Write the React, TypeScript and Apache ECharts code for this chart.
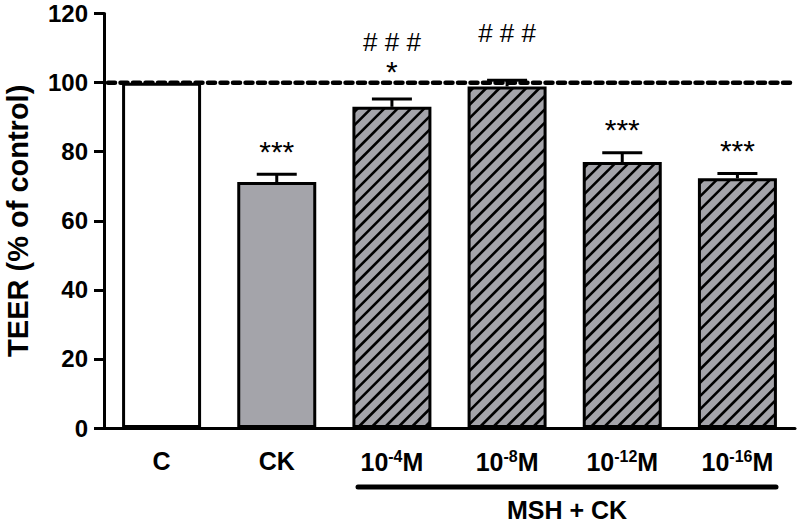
import React, { useEffect, useRef } from "react";
import * as echarts from "echarts";

const categories = ["C", "CK", "10^-4M", "10^-8M", "10^-12M", "10^-16M"];
const categoryLabels = ["C", "CK", "10{sup|-4}M", "10{sup|-8}M", "10{sup|-12}M", "10{sup|-16}M"];
const teerMean = [100, 71.2, 93.0, 98.9, 77.0, 72.3];
const teerSem = [0, 2.3, 2.3, 1.8, 2.7, 1.4];
const hatched = [false, false, true, true, true, true];
const starLabels = ["", "***", "*", "", "***", "***"];
const hashLabels = ["", "", "# # #", "# # #", "", ""];
const yTicks = { min: 0, max: 120, interval: 20 };
const controlLevel = 100;
const groupLabel = "MSH + CK";
const yAxisTitle = "TEER (% of control)";

const GRAY = "#a4a4aa";
const FONT = "'Liberation Sans', Arial, Helvetica, sans-serif";
const BAR_W = 79;

export default function App() {
  const ref = useRef<HTMLDivElement>(null);
  useEffect(() => {
    if (!ref.current) return;
    const chart = echarts.init(ref.current, undefined, { renderer: "svg" });
    const barData = teerMean.map((v, i) => ({
      value: v,
      itemStyle: { color: i === 0 ? "#ffffff" : GRAY },
    }));

    const option: any = {
      animation: false,
      textStyle: { fontFamily: FONT },
      grid: { left: 104, right: 5, top: 13.6, bottom: 97, outerBoundsMode: "none", containLabel: false },
      xAxis: {
        type: "category",
        data: categories,
        axisLine: { lineStyle: { color: "#000", width: 3 } },
        axisTick: { alignWithLabel: true, length: 10, lineStyle: { color: "#000", width: 3 } },
        axisLabel: {
          interval: 0,
          margin: 20,
          color: "#000",
          fontWeight: "bold",
          fontSize: 25,
          fontFamily: FONT,
          formatter: (_v: string, i: number) => categoryLabels[i],
          rich: {
            sup: {
              fontSize: 16,
              fontWeight: "bold",
              fontFamily: FONT,
              color: "#000",
              verticalAlign: "top",
              padding: [0, 0, 12, 0],
            },
          },
        },
      },
      yAxis: {
        type: "value",
        min: yTicks.min,
        max: yTicks.max,
        interval: yTicks.interval,
        name: yAxisTitle,
        nameLocation: "middle",
        nameGap: 72,
        nameTextStyle: { fontSize: 29, fontWeight: "bold", color: "#000", fontFamily: FONT },
        splitLine: { show: false },
        axisLine: { show: true, lineStyle: { color: "#000", width: 3 } },
        axisTick: { show: true, length: 10, lineStyle: { color: "#000", width: 3 } },
        axisLabel: { margin: 16, color: "#000", fontWeight: "bold", fontSize: 24, fontFamily: FONT },
      },
      series: [
        {
          type: "bar",
          data: barData,
          barWidth: BAR_W,
          itemStyle: { borderColor: "#000", borderWidth: 3 },
          z: 2,
        },
        {
          // diagonal hatching inside the hatched bars
          type: "custom",
          data: teerMean.map((v, i) => [i, v]),
          z: 3,
          renderItem: (params: any, api: any) => {
            const idx = params.dataIndex;
            if (!hatched[idx]) return { type: "group", children: [] };
            const top = api.coord([api.value(0), api.value(1)]);
            const bot = api.coord([api.value(0), 0]);
            const inset = 1.5;
            const x0 = top[0] - BAR_W / 2 + inset;
            const x1 = top[0] + BAR_W / 2 - inset;
            const y0 = top[1] + inset;
            const y1 = bot[1] - inset;
            const step = 13.3;
            const children: any[] = [];
            const cStart = x0 + y0 + 4;
            for (let c = cStart; c < x1 + y1; c += step) {
              const sx = Math.max(x0, c - y1);
              const ex = Math.min(x1, c - y0);
              if (ex <= sx) continue;
              children.push({
                type: "line",
                shape: { x1: sx, y1: c - sx, x2: ex, y2: c - ex },
                style: { stroke: "#000", lineWidth: 2.6 },
              });
            }
            return { type: "group", children };
          },
        },
        {
          type: "custom",
          data: [[0, controlLevel]],
          z: 6,
          renderItem: (params: any, api: any) => {
            const cs = params.coordSys;
            const p = api.coord([0, api.value(1)]);
            return {
              type: "line",
              shape: { x1: cs.x + 4, y1: p[1], x2: cs.x + cs.width - 4, y2: p[1] },
              style: { stroke: "#000", lineWidth: 4.5, lineDash: [7, 5.5], lineCap: "round" },
            };
          },
        },
        {
          type: "custom",
          data: teerMean.map((v, i) => [i, v, teerSem[i]]),
          z: 4,
          renderItem: (params: any, api: any) => {
            const i = api.value(0);
            const v = api.value(1);
            const e = api.value(2);
            if (!e) return { type: "group", children: [] };
            const base = api.coord([i, v]);
            const top = api.coord([i, v + e]);
            const hw = 20;
            const st = { stroke: "#000", lineWidth: 3 };
            return {
              type: "group",
              children: [
                { type: "line", shape: { x1: base[0], y1: base[1], x2: top[0], y2: top[1] }, style: st },
                { type: "line", shape: { x1: top[0] - hw, y1: top[1], x2: top[0] + hw, y2: top[1] }, style: st },
              ],
            };
          },
        },
        {
          type: "custom",
          data: teerMean.map((v, i) => [i, v + teerSem[i]]),
          z: 5,
          renderItem: (params: any, api: any) => {
            const idx = params.dataIndex;
            const p = api.coord([api.value(0), api.value(1)]);
            const children: any[] = [];
            const star = starLabels[idx];
            const hash = hashLabels[idx];
            if (star) {
              children.push({
                type: "text",
                x: p[0],
                y: p[1] - (star.length === 1 ? 12 : 8),
                style: { text: star, fontSize: 30, fontFamily: FONT, fill: "#000", textAlign: "center", textVerticalAlign: "bottom" },
              });
            }
            if (hash) {
              children.push({
                type: "text",
                x: p[0],
                y: p[1] - (star ? 44 : 34),
                style: { text: hash, fontSize: 26, fontFamily: FONT, fill: "#000", textAlign: "center", textVerticalAlign: "bottom" },
              });
            }
            return { type: "group", children };
          },
        },
      ],
      graphic: [
        {
          type: "line",
          shape: { x1: 358, y1: 487, x2: 776, y2: 487 },
          style: { stroke: "#000", lineWidth: 5, lineCap: "round" },
        },
        {
          type: "text",
          x: 567,
          y: 510,
          style: {
            text: groupLabel,
            fontSize: 25,
            fontWeight: "bold",
            fontFamily: FONT,
            fill: "#000",
            textAlign: "center",
            textVerticalAlign: "middle",
          },
        },
      ],
    };
    chart.setOption(option);
    return () => chart.dispose();
  }, []);
  return <div ref={ref} style={{ width: 800, height: 525, position: "absolute", left: 0, top: 0 }} />;
}
